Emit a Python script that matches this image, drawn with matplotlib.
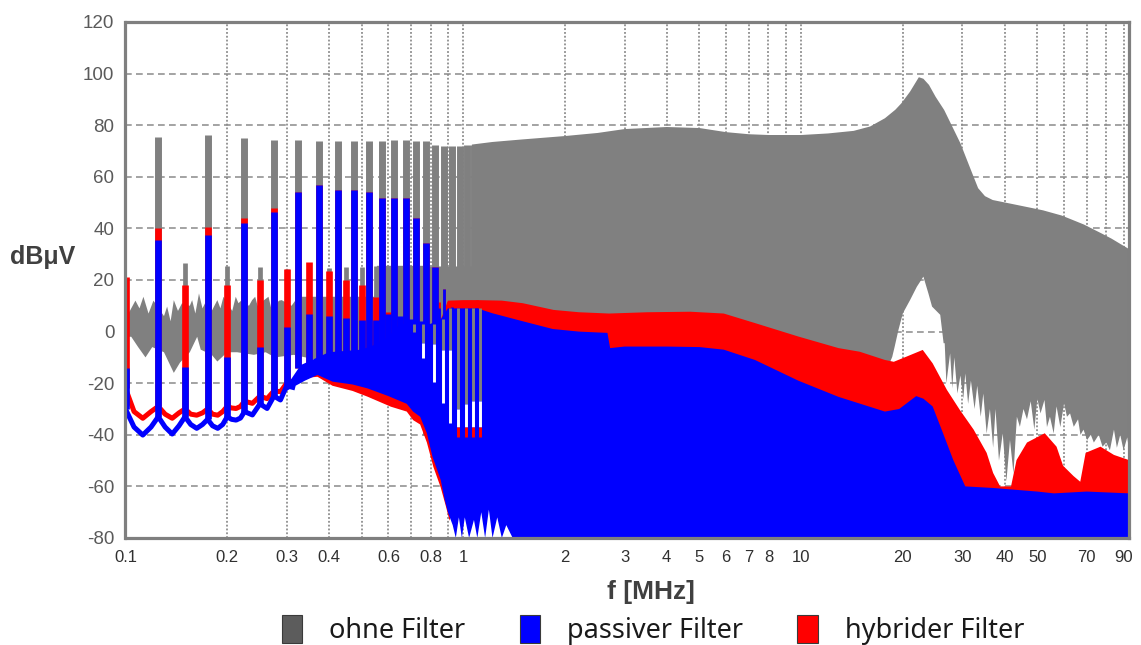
import matplotlib
matplotlib.use("Agg")
import matplotlib.pyplot as plt
from matplotlib.patches import Patch
from matplotlib.ticker import NullFormatter, FixedLocator

plt.rcParams['font.family'] = ['Liberation Sans', 'DejaVu Sans']
plt.rcParams['axes.unicode_minus'] = False

GRAY = '#808080'
BLUE = '#0000ff'
RED = '#ff0000'

# ---- harmonic comb below ~1.1 MHz (MHz / dBuV) ----
odd_f = [0.125, 0.175, 0.225, 0.275, 0.325, 0.375, 0.425, 0.475, 0.525, 0.575,
         0.625, 0.675, 0.725, 0.775, 0.825, 0.875, 0.925, 0.975, 1.025, 1.075]
even_f = [0.1, 0.15, 0.2, 0.25, 0.3, 0.35, 0.4, 0.45, 0.5, 0.55, 0.6,
          0.65, 0.7, 0.75, 0.8, 0.85, 0.9, 0.95, 1.0, 1.05, 1.1]

gray_odd_pk = [75.6, 76.2, 74.9, 74.3, 74.3, 74.0, 74.0, 74.0, 74.0, 74.0,
               74.3, 74.3, 74.0, 74.0, 72.5, 72.0, 72.0, 72.0, 72.3, 72.5]
gray_odd_base = [-10, -10, -10, -10, -10, -10, -10, -10, -10, -10,
                 -10, -10, -10, -40, -40, -40, -40, -40, -40, -40]
gray_even_pk = [10, 26.4, 25.5, 25.0, 24.3, 25.0, 24.5, 25.0, 25.0, 25.5, 25.5,
                25.5, 25.5, 25.5, 25.5, 25.5, 25.5, 25.5, 25.5, 25.5, 25.5]
gray_even_base = [-10, -10, -10, -10, -10, -10, -10, -10, -10, -10, -10,
                  -10, -10, -10, -40, -40, -40, -40, -40, -40, -40]

red_odd_pk = [40.1, 40.7, 43.9, 47.8, 54.2, 56.8, 54.9, 54.9, 54.2, 51.8,
              51.8, 51.8, 44.0, 34.3, 25.2, 16.7, 11.5, 11.5, 11.8, 12.0]
red_odd_base = [-29, -30, -27, -23, -14, -14, -14, -14, -14, -14,
                -14, -14, -14, -14, -14, -41, -41, -41, -41, -41]
red_even_pk = [21.3, 18.1, 18.1, 20.0, 24.3, 27.1, 23.6, 20.0, 18.1, 13.5, 7.7,
               4.0, 4.0, 3.0, 3.0, 11.5, 11.5, 11.5, 11.8, 12.0, 12.2]
red_even_base = [-22, -30, -29, -25, -20, -14, -14, -14, -14, -14, -14,
                 -14, -14, -14, -14, -41, -41, -41, -41, -41, -41]

blue_odd_pk = [35.5, 37.4, 42.0, 46.5, 54.2, 56.8, 54.9, 54.9, 54.2, 51.8,
               51.8, 51.8, 44.0, 34.3, 25.2, 16.7, 9.5, 8.5, 8.5, 8.5]
blue_odd_base = [-33, -34, -31, -25, -14, -14, -14, -14, -14, -14,
                 -14, -14, -14, -14, -14, -42, -42, -42, -42, -42]
blue_even_pk = [-14, -13.6, -9.7, -5.8, 1.9, 7.0, 5.9, 5.3, 4.6, 4.6, 7.0,
                6.0, 5.0, 4.0, 3.0, 9.0, 8.5, 8.5, 8.5, 8.5, 9.0]
blue_even_base = [-30, -33, -33, -28, -21, -14, -14, -14, -14, -14, -14,
                  -14, -14, -14, -14, -42, -42, -42, -42, -42, -42]

# scalloped floor between the low harmonics
trace_f = [0.1, 0.106, 0.1125, 0.119, 0.125, 0.131, 0.1375, 0.144, 0.15, 0.156,
           0.1625, 0.169, 0.175, 0.181, 0.1875, 0.194, 0.2, 0.206, 0.2125, 0.219,
           0.225, 0.2375, 0.25, 0.2625, 0.275, 0.2875, 0.3, 0.3125]
red_trace = [-22, -31, -33.6, -31, -29, -32, -33.6, -31.5, -30, -32,
             -32.4, -31.5, -30, -32, -32.4, -31, -29, -29.6, -29.8, -29,
             -27, -27.8, -25, -26, -23, -23.3, -20, -19.4]
blue_trace = [-30, -37, -40.1, -37, -33, -37, -39.7, -36.5, -33, -36,
              -37.5, -36, -34, -36.5, -37.5, -36, -33, -34, -34.3, -33.5,
              -31, -32.3, -28, -29.8, -25, -26.5, -21, -21.6]

# troughs between harmonics around 1 MHz (where no trace reaches)
gap_f = [0.714, 0.762, 0.816, 0.872, 0.915, 0.967, 1.02, 1.07, 1.12]
gap_top = [3, 3, 3, 5, 9, 9, 9, 9, 9]
gap_gray_bot = [0, -4.5, -5, -7, -7, -30, -28, -27, -27]
gap_white_bot = [0, -10.4, -19.4, -27.8, -35.5, -37, -37, -37, -37]
gap_red_bot = [0, -10.4, -19.4, -27.8, -35.5, -41, -41, -41, -41]

# ---- ohne Filter: noise floor + envelope ----
gray_noise_top_f = [0.1, 0.1034, 0.107, 0.11, 0.113, 0.117, 0.121, 0.13, 0.1328, 0.136,
                    0.139, 0.143, 0.147, 0.155, 0.1575, 0.161, 0.165, 0.169, 0.172, 0.18,
                    0.187, 0.191, 0.195, 0.207, 0.212, 0.216, 0.22, 0.232, 0.237, 0.242,
                    0.246, 0.256, 0.265, 0.27, 0.285, 0.29, 0.31, 0.318, 0.33, 0.45,
                    0.545, 0.555, 0.77]
gray_noise_top_v = [5, 8.4, 12, 9, 13.5, 7, 12, 6, 9.7, 4,
                    12.2, 8, 11, 10, 12.2, 7, 14.8, 9, 11, 8,
                    12.2, 9, 13.5, 8, 13.5, 11, 12, 10, 12.2, 13.5,
                    10, 12, 13.5, 9, 12, 12.2, 10, 12, 13.5, 13.5,
                    13.5, 25.5, 25.5]
gray_noise_bot_f = [0.1, 0.104, 0.109, 0.1146, 0.12, 0.13, 0.139, 0.145, 0.155, 0.163,
                    0.167, 0.18, 0.187, 0.2, 0.214, 0.24, 0.26, 0.277, 0.315, 0.4, 0.77]
gray_noise_bot_v = [-2, -2, -6, -10, -6, -8, -16, -12, -8, -2,
                    -7, -9, -11.6, -8, -8, -9, -8, -10, -9, -12, -12]

gray_top_f = [1.06, 1.22, 1.5, 2.0, 2.5, 3.0, 4.0, 5.0, 6.0, 7.0,
              8.0, 10.0, 12.0, 14.3, 16.0, 17.7, 19.0, 19.8, 21.0, 22.3,
              23.0, 23.9, 25.0, 26.5, 28.0, 29.6, 31.5, 33.4, 35.0, 36.9,
              42.0, 48.6, 52.0, 59.0, 63.0, 68.7, 77.6, 83.0, 88.0, 93.4]
gray_top_v = [72.5, 73.5, 74.5, 75.8, 77.0, 78.5, 79.3, 78.9, 77.3, 76.5,
              76.2, 76.2, 76.8, 77.8, 79.5, 82.7, 86.0, 88.5, 93.0, 98.6,
              98.0, 95.6, 91.0, 85.9, 79.5, 73.0, 64.0, 55.6, 52.5, 51.0,
              49.5, 47.8, 47.0, 45.0, 43.5, 41.5, 38.0, 36.0, 34.0, 32.0]
gray_bot_f = [1.06, 17.0, 18.3, 18.6, 18.9, 19.4, 20.0, 21.0, 22.0, 23.0,
              23.8, 24.4, 25.8, 26.4, 26.6, 26.9, 27.6, 28.0, 28.4, 29.0,
              29.6, 30.2, 30.6, 31.2, 31.8, 32.6, 33.2, 34.0, 34.6, 35.4,
              36.2, 37.0, 37.6, 38.5, 39.5, 40.5, 41.5, 42.5, 43.5, 44.4,
              45.5, 46.6, 47.8, 49.0, 50.0, 51.1, 52.5, 53.4, 54.5, 55.9,
              57.0, 58.5, 60.0, 61.2, 62.5, 64.1, 66.0, 67.1, 68.5, 70.2,
              72.0, 73.5, 76.0, 78.0, 80.0, 82.0, 84.3, 86.0, 88.0, 90.0,
              92.3, 93.4]
gray_bot_v = [-20, -20, -12, -9.8, -6, 0.6, 7.1, 12.2, 17.4, 21.3,
              14.8, 9.7, 6.5, -4.5, -4.5, -20, -8.4, -22, -10, -24,
              -17, -26, -16.2, -28, -19, -30, -21, -33, -24, -39.5,
              -30, -45, -30, -50, -39.5, -58, -42, -55, -33, -36.9,
              -30, -34, -27, -38, -26, -31.7, -26.5, -37, -33, -39.5,
              -29, -37, -27.8, -33, -31.7, -36.9, -34, -40, -38, -42,
              -40, -43, -40, -44.6, -43, -46, -38, -45, -40, -46,
              -41, -46]

# ---- hybrider Filter envelope ----
red_top_f = [0.3, 0.34, 0.4, 0.5, 0.6, 0.7, 0.8, 0.86, 0.9, 1.0,
             1.1, 1.3, 1.5, 1.85, 2.2, 2.7, 3.5, 4.7, 5.9, 7.3,
             9.8, 12.9, 14.9, 17.7, 18.8, 20.5, 22.9, 24.5, 27.0, 29.5,
             32.4, 35.4, 37.0, 38.8, 41.8, 43.4, 46.6, 52.6, 57.0, 59.6,
             64.0, 67.0, 69.5, 76.9, 84.3, 93.4]
red_top_v = [-20, -14, -12, -12, -6, 0, 0, 5, 12, 12.2,
             12.2, 12.0, 11.0, 8.4, 7.5, 7.0, 7.5, 7.7, 7.0, 3.3,
             -1.9, -6.4, -7.8, -11.0, -11.7, -9.7, -7.1, -12.3, -22.6, -30.4,
             -38.0, -47.0, -54.8, -60.0, -60.0, -49.8, -43.0, -39.4, -44.6, -52.0,
             -56.0, -58.2, -47.0, -44.6, -47.8, -49.8]
red_bot_f = [0.3, 0.3125, 0.34, 0.37, 0.41, 0.47, 0.52, 0.61, 0.68, 0.71,
             0.745, 0.78, 0.815, 0.857, 0.89, 0.91, 0.93, 1.5, 1.55, 93.4]
red_bot_v = [-20, -19.4, -18, -17.5, -21, -23, -25.2, -29.1, -31, -34.3,
             -36, -43, -52.4, -60.4, -68.2, -73.3, -68, -68, -80, -80]

# ---- passiver Filter envelope ----
blue_top_f = [0.3, 0.33, 0.4, 0.5, 0.55, 0.6, 0.65, 0.8, 0.86, 0.9,
              1.1, 1.22, 1.5, 1.84, 2.2, 2.67, 2.72, 3.0, 4.0, 5.0,
              5.9, 7.3, 9.8, 12.9, 17.7, 19.5, 21.9, 23.0, 24.5, 26.3,
              28.2, 30.6, 36.9, 50.0, 56.0, 70.0, 93.4]
blue_top_v = [-21, -13, -8, -7, -5, -2, 3, 3, 5, 9,
              9.0, 7.1, 4.0, 1.0, 0.0, -0.5, -6.4, -5.8, -5.8, -6.0,
              -7.0, -11.0, -19.0, -25.3, -31.0, -30.0, -25.0, -26.0, -29.0, -39.4,
              -49.8, -60.0, -60.6, -62.0, -62.7, -62.0, -62.7]
blue_bot_f = [0.3, 0.3125, 0.34, 0.37, 0.41, 0.47, 0.52, 0.6, 0.68, 0.71,
              0.745, 0.78, 0.81, 0.857, 0.88, 0.9, 0.93, 0.95, 0.97, 0.99,
              1.01, 1.04, 1.075, 1.1, 1.13, 1.16, 1.19, 1.22, 1.26, 1.3,
              1.34, 1.4, 1.45, 93.4]
blue_bot_v = [-23, -21.6, -19, -16.8, -19.4, -20.5, -22, -25, -28, -31,
              -33, -39.4, -48.4, -57.5, -65, -70, -75, -80, -72, -80,
              -72, -80, -73, -80, -70, -80, -69, -80, -72, -80,
              -75, -80, -80, -80]

x_ticks = [0.1, 0.2, 0.3, 0.4, 0.6, 0.8, 1, 2, 3, 4, 5, 6, 7, 8, 10, 20, 30, 40, 50, 70, 90]
x_tick_labels = ['0.1', '0.2', '0.3', '0.4', '0.6', '0.8', '1', '2', '3', '4', '5', '6',
                 '7', '8', '10', '20', '30', '40', '50', '70', '90']
y_ticks = [-80, -60, -40, -20, 0, 20, 40, 60, 80, 100, 120]


def band(ax, tf, tv, bf, bv, color, z):
    xs = list(tf) + list(bf)[::-1]
    ys = list(tv) + list(bv)[::-1]
    ax.fill(xs, ys, color=color, lw=0, zorder=z)


def split(f, lo, hi, cut):
    a = [i for i in range(len(f)) if f[i] < cut]
    b = [i for i in range(len(f)) if f[i] >= cut]
    pick = lambda idx, arr: [arr[i] for i in idx]
    return (pick(a, f), pick(a, lo), pick(a, hi)), (pick(b, f), pick(b, lo), pick(b, hi))


fig = plt.figure(figsize=(11.41, 6.45), dpi=100)
ax = fig.add_axes([125.5 / 1141, 107 / 645, 1003.5 / 1141, 516 / 645])
ax.set_xscale('log')

# ohne Filter
band(ax, gray_noise_top_f, gray_noise_top_v, gray_noise_bot_f, gray_noise_bot_v, GRAY, 2)
band(ax, gray_top_f, gray_top_v, gray_bot_f, gray_bot_v, GRAY, 2)
ax.vlines(odd_f, gray_odd_base, gray_odd_pk, colors=GRAY, lw=5.0, zorder=2)
ax.vlines(even_f, gray_even_base, gray_even_pk, colors=GRAY, lw=3.4, zorder=2)

# hybrider Filter
band(ax, red_top_f, red_top_v, red_bot_f, red_bot_v, RED, 3)
ax.plot(trace_f, red_trace, color=RED, lw=3.6, zorder=3, solid_joinstyle='round')
for f, lo, hi in [(odd_f, red_odd_base, red_odd_pk), (even_f, red_even_base, red_even_pk)]:
    low, high = split(f, lo, hi, 0.84)
    ax.vlines(*low, colors=RED, lw=4.8, zorder=3)
    ax.vlines(*high, colors=RED, lw=2.0, zorder=3)

# passiver Filter
band(ax, blue_top_f, blue_top_v, blue_bot_f, blue_bot_v, BLUE, 4)
ax.plot(trace_f, blue_trace, color=BLUE, lw=3.6, zorder=4, solid_joinstyle='round')
for f, lo, hi in [(odd_f, blue_odd_base, blue_odd_pk), (even_f, blue_even_base, blue_even_pk)]:
    low, high = split(f, lo, hi, 0.84)
    ax.vlines(*low, colors=BLUE, lw=4.8, zorder=4)
    ax.vlines(*high, colors=BLUE, lw=2.0, zorder=4)

# troughs: gray above, then background, then red at the bottom
ax.vlines(gap_f, gap_gray_bot, gap_top, colors=GRAY, lw=2.1, zorder=4.5)
ax.vlines(gap_f, gap_white_bot, gap_gray_bot, colors='white', lw=2.1, zorder=4.5)
ax.vlines(gap_f, gap_red_bot, gap_white_bot, colors=RED, lw=2.1, zorder=4.5)

ax.set_xlim(0.1, 93.4)
ax.set_ylim(-80, 120)

ax.set_xticks(x_ticks)
ax.set_xticklabels(x_tick_labels)
grid_x = [m * d for d in (0.1, 1, 10) for m in range(1, 10)]
ax.xaxis.set_minor_locator(FixedLocator(grid_x))
ax.xaxis.set_minor_formatter(NullFormatter())
ax.set_yticks(y_ticks)

ax.set_axisbelow(True)
ax.grid(True, axis='x', which='both', color='#7a7a7a', lw=1.1, linestyle=(0, (1.2, 1.3)))
ax.grid(True, axis='y', which='major', color='#8a8a8a', lw=1.1, linestyle=(0, (4.4, 2.8)))

ax.tick_params(axis='both', which='both', length=0)
ax.tick_params(axis='x', pad=8.5, labelsize=12, labelcolor='#303030')
ax.tick_params(axis='y', pad=8, labelsize=13.5, labelcolor='#5a5a5a')

for s in ax.spines.values():
    s.set_color('#7f7f7f')
    s.set_linewidth(2.3)
    s.set_zorder(10)

fig.text(43 / 1141, 1 - 257 / 645, 'dBμV', fontsize=18, fontweight='bold',
         color='#404040', ha='center', va='center')
fig.text(651 / 1141, 1 - 592 / 645, 'f [MHz]', fontsize=19, fontweight='bold',
         color='#404040', ha='center', va='center')

handles = [Patch(facecolor='#5c5c5c', edgecolor='#3a3a3a', lw=0.8, label='ohne Filter'),
           Patch(facecolor=BLUE, edgecolor='#3a3a3a', lw=0.8, label='passiver Filter'),
           Patch(facecolor=RED, edgecolor='#3a3a3a', lw=0.8, label='hybrider Filter')]
fig.legend(handles=handles, loc='center', bbox_to_anchor=(653 / 1141, 1 - 630 / 645),
           ncol=3, frameon=False, prop={'family': ['Noto Sans', 'DejaVu Sans'], 'size': 19.5},
           labelcolor='#1a1a1a', handlelength=0.75, handleheight=1.25,
           handletextpad=1.0, columnspacing=2.0, borderpad=0.2)

fig.savefig('out.png', dpi=100)
